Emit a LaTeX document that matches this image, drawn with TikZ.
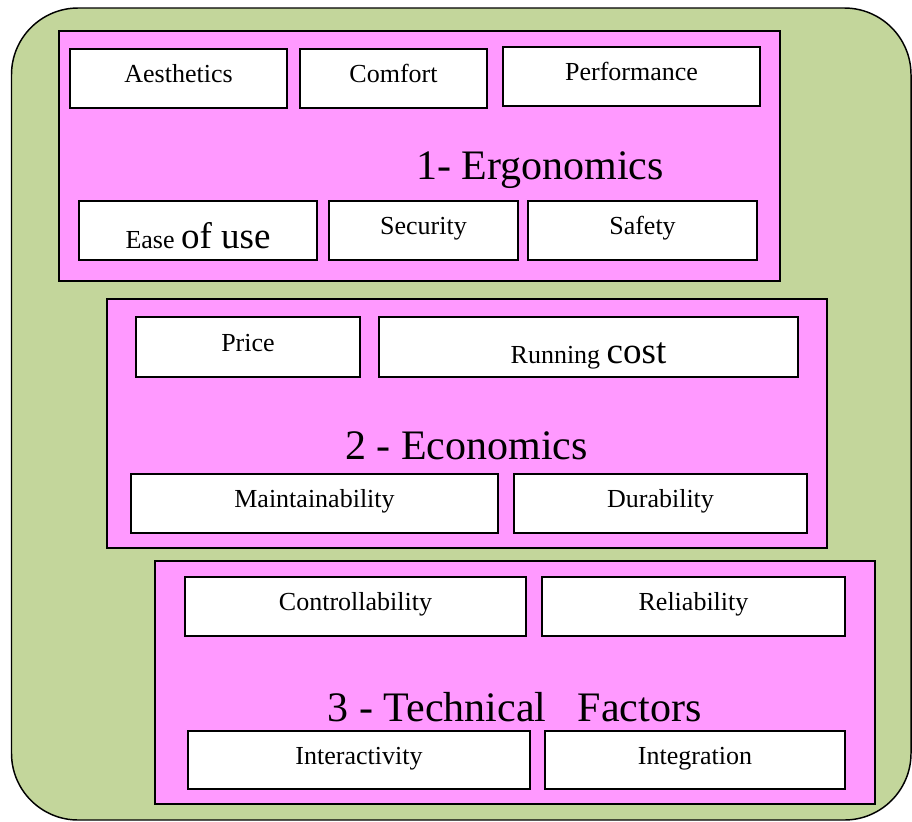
\documentclass[tikz,border=0pt]{standalone}
\usepackage{fontspec}
\setmainfont{Liberation Serif}
\usetikzlibrary{positioning}
\definecolor{bggreen}{HTML}{C3D69B}
\definecolor{boxpink}{HTML}{FF99FF}

\begin{document}
\begin{tikzpicture}[x=0.75pt,y=0.75pt,yscale=-1,xscale=1,
    outer/.style={draw=black, line width=1.1pt, fill=bggreen, rounded corners=50pt},
    group/.style={draw=black, line width=1pt, fill=boxpink},
    item/.style={draw=black, line width=1pt, fill=white},
    lbl/.style={font=\fontsize{19.5}{21}\selectfont, text height=0.74em, text depth=0.12em, inner sep=0pt},
    title/.style={font=\fontsize{31.5}{33}\selectfont, anchor=base, inner sep=0pt}]
        \useasboundingbox (0,0) rectangle (912,821);
        %Rounded Rect
        \draw [outer] (11.5,8) rectangle (911,820);
        %Shape: Rectangle - Ergonomics
        \draw [group] (59,31) rectangle (780,281);
        \draw [item] (70,49) rectangle (287,108) node[lbl, midway] (aes) {Aesthetics};
        \draw [item] (300,49) rectangle (487,108) node[lbl, midway] (comf) {Comfort};
        \draw [item] (503,47) rectangle (760,106) node[lbl, midway] (perf) {Performance};
        \node [title] (ergo) at (540,179) {1- Ergonomics};
        \draw [item] (79,201) rectangle (317,260) node[lbl, midway, yshift=-10.5pt] (ease) {Ease {\fontsize{27.75}{29}\selectfont of use}};
        \draw [item] (329,201) rectangle (518,260) node[lbl, midway] (secu) {Security};
        \draw [item] (528,201) rectangle (757,260) node[lbl, midway] (safe) {Safety};
        %Shape: Rectangle - Economics
        \draw [group] (107,299) rectangle (827,548);
        \draw [item] (136,317) rectangle (360,377) node[lbl, midway] (price) {Price};
        \draw [item] (379,317) rectangle (798,377) node[lbl, midway, yshift=-9pt] (run) {Running {\fontsize{27.75}{29}\selectfont cost}};
        \node [title] (econ) at (466.5,459) {2 - Economics};
        \draw [item] (131,474) rectangle (498,533) node[lbl, midway] (maint) {Maintainability};
        \draw [item] (514,474) rectangle (807,533) node[lbl, midway] (dura) {Durability};
        %Shape: Rectangle - Technical Factors
        \draw [group] (155,561) rectangle (875,804);
        \draw [item] (185,577) rectangle (526,636) node[lbl, midway] (ctrl) {Controllability};
        \draw [item] (542,577) rectangle (845,636) node[lbl, midway] (reli) {Reliability};
        \node [title] (tech) at (514.5,721) {3 - Technical \ \ Factors};
        \draw [item] (188,731) rectangle (530,789) node[lbl, midway] (inter) {Interactivity};
        \draw [item] (545,731) rectangle (845,789) node[lbl, midway] (integ) {Integration};
    \end{tikzpicture}
\end{document}
